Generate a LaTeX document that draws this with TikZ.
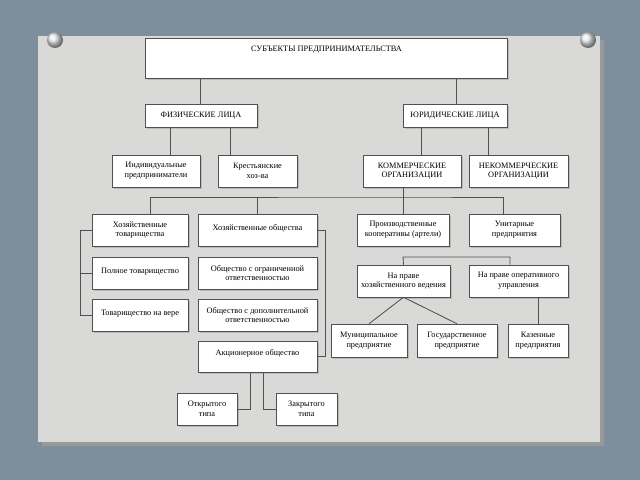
\documentclass[tikz,border=0pt]{standalone}
\usepackage{fontspec}
\setmainfont{Liberation Serif}
\usetikzlibrary{shadows}
\definecolor{slate}{HTML}{7F8E9B}
\definecolor{panel}{HTML}{D9D9D7}
\definecolor{edge}{HTML}{505050}
\begin{document}
\begin{tikzpicture}[x=0.025cm,y=-0.025cm]
		% Estilos
		\tikzstyle{box} = [rectangle, draw=edge, fill=white, drop shadow={shadow xshift=1.2pt, shadow yshift=-1.2pt, opacity=0.35}, align=center, inner sep=1pt, font=\fontsize{5.9}{6.9}\selectfont]
		\tikzstyle{link} = [edge, line width=0.6pt]
		% Fundo
		\fill[slate] (0,0) rectangle (640,480);
		\fill[black!40] (42,40) rectangle (604,446);
		\fill[panel] (38,36) rectangle (600,442);
		\shade[ball color=white!80!slate] (55,40) circle (8);
		\shade[ball color=white!80!slate] (588,40) circle (8);
		% Nós
		\node (subj) [box, minimum width=363*0.71pt, minimum height=40*0.71pt, text height=5pt, text depth=14pt] at (326.5,58) {СУБЪЕКТЫ ПРЕДПРИНИМАТЕЛЬСТВА};
		\node (fiz) [box, minimum width=112*0.71pt, minimum height=23*0.71pt] at (201,115.5) {ФИЗИЧЕСКИЕ ЛИЦА};
		\node (yur) [box, minimum width=104*0.71pt, minimum height=23*0.71pt] at (455,115.5) {ЮРИДИЧЕСКИЕ ЛИЦА};
		\node (ind) [box, minimum width=88*0.71pt, minimum height=32*0.71pt] at (156,171) {Индивидуальные\\предприниматели};
		\node (kres) [box, minimum width=79*0.71pt, minimum height=32*0.71pt] at (257.5,171) {Крестьянские\\хоз-ва};
		\node (komm) [box, minimum width=98*0.71pt, minimum height=32*0.71pt] at (412,171) {КОММЕРЧЕСКИЕ\\ОРГАНИЗАЦИИ};
		\node (nekomm) [box, minimum width=99*0.71pt, minimum height=32*0.71pt] at (518.5,171) {НЕКОММЕРЧЕСКИЕ\\ОРГАНИЗАЦИИ};
		\node (hoztov) [box, minimum width=96*0.71pt, minimum height=32*0.71pt] at (140,230) {Хозяйственные\\товарищества};
		\node (hozobsh) [box, minimum width=119*0.71pt, minimum height=32*0.71pt, text height=5pt, text depth=5pt] at (257.5,230) {Хозяйственные общества};
		\node (proizv) [box, minimum width=92*0.71pt, minimum height=32*0.71pt] at (403,230) {Производственные\\кооперативы (артели)};
		\node (unitar) [box, minimum width=91*0.71pt, minimum height=32*0.71pt] at (514.5,230) {Унитарные\\предприятия};
		\node (polnoe) [box, minimum width=96*0.71pt, minimum height=32*0.71pt, text height=5pt, text depth=5pt] at (140,273) {Полное товарищество};
		\node (vera) [box, minimum width=96*0.71pt, minimum height=32*0.71pt, text height=5pt, text depth=5pt] at (140,315) {Товарищество на вере};
		\node (ooo) [box, minimum width=119*0.71pt, minimum height=32*0.71pt] at (257.5,273) {Общество с ограниченной\\ответственностью};
		\node (odo) [box, minimum width=119*0.71pt, minimum height=32*0.71pt] at (257.5,315) {Общество с дополнительной\\ответственностью};
		\node (ao) [box, minimum width=119*0.71pt, minimum height=31*0.71pt, text height=5pt, text depth=7pt] at (257.5,356.5) {Акционерное общество};
		\node (otkr) [box, minimum width=60*0.71pt, minimum height=32*0.71pt] at (207,409) {Открытого\\типа};
		\node (zakr) [box, minimum width=61*0.71pt, minimum height=32*0.71pt] at (306.5,409) {Закрытого\\типа};
		\node (hozved) [box, minimum width=93*0.71pt, minimum height=32*0.71pt] at (403.5,281) {На праве\\хозяйственного ведения};
		\node (oper) [box, minimum width=99*0.71pt, minimum height=32*0.71pt] at (518.5,281) {На праве оперативного\\управления};
		\node (mun) [box, minimum width=76*0.71pt, minimum height=33*0.71pt] at (369,340.5) {Муниципальное\\предприятие};
		\node (gos) [box, minimum width=80*0.71pt, minimum height=33*0.71pt] at (457,340.5) {Государственное\\предприятие};
		\node (kaz) [box, minimum width=60*0.71pt, minimum height=33*0.71pt] at (538,340.5) {Казенные\\предприятия};
		% Линии
		\draw [link] (fiz.north -| 200,0) -- (subj.south -| 200,0);
		\draw [link] (yur.north -| 456,0) -- (subj.south -| 456,0);
		\draw [link] (ind.north -| 170,0) -- (fiz.south -| 170,0);
		\draw [link] (kres.north -| 230,0) -- (fiz.south -| 230,0);
		\draw [link] (komm.north -| 421,0) -- (yur.south -| 421,0);
		\draw [link] (nekomm.north -| 488,0) -- (yur.south -| 488,0);
		\draw [link] (komm.south -| 403,0) -- (403,197);
		\draw [link] (hoztov.north -| 150,0) |- (403,197) -| (unitar.north -| 503,0);
		\draw [link] (hozobsh.north) -- (257.5,197);
		\draw [link] (proizv.north) -- (403,197);
		\draw [link] (hoztov.west) -| (80,315) -- (vera.west);
		\draw [link] (polnoe.west) -- (80,273);
		\draw [link] (hozobsh.east) -| (325,356.5) -- (ao.east);
		\draw [link] (hozved.north) -- (403,257) -| (oper.north -| 510,0);
		\draw [link] (ao.south -| 250,0) |- (otkr.east);
		\draw [link] (ao.south -| 263,0) |- (zakr.west);
		\draw [link] (hozved.south) -- (mun.north);
		\draw [link] (hozved.south) -- (gos.north);
		\draw [link] (oper.south -| 538,0) -- (kaz.north);
	\end{tikzpicture}
\end{document}
